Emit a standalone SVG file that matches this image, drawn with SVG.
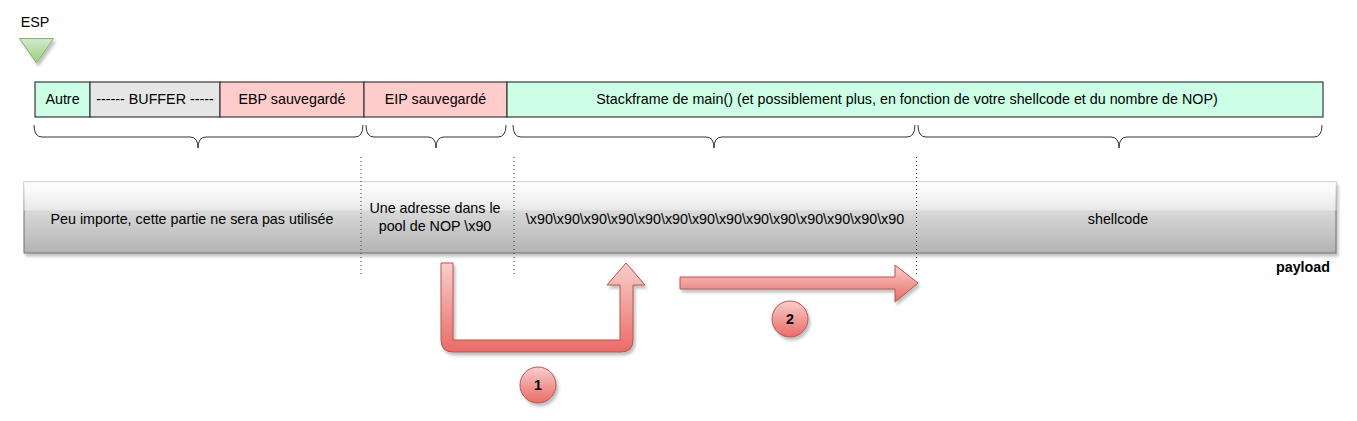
<svg xmlns="http://www.w3.org/2000/svg" width="1357" height="421" viewBox="0 0 1357 421">
<defs>
<style>
text{font-family:"Liberation Sans",Arial,Helvetica,sans-serif;font-size:14.3px;fill:#000;text-anchor:middle}
.cell{stroke:#36393d;stroke-width:1.2}
.brace{fill:none;stroke:#333;stroke-width:1}
.dot{stroke:#333;stroke-width:1;stroke-dasharray:1 3}
.red{fill:url(#gRed);stroke:#b85450;stroke-width:1;filter:url(#sh)}
.b{font-weight:bold}
</style>
<linearGradient id="gRed" x1="0" y1="0" x2="0" y2="1">
<stop offset="0" stop-color="#f8cecc"/><stop offset="1" stop-color="#ea6b66"/>
</linearGradient>
<linearGradient id="gGreen" x1="0" y1="0" x2="0" y2="1">
<stop offset="0" stop-color="#d5e8d4"/><stop offset="1" stop-color="#97d077"/>
</linearGradient>
<linearGradient id="gGray" x1="0" y1="0" x2="0" y2="1">
<stop offset="0" stop-color="#f2f2f2"/><stop offset="1" stop-color="#b3b3b3"/>
</linearGradient>
<linearGradient id="gGlass" x1="0" y1="0" x2="0" y2="1">
<stop offset="0" stop-color="#fff" stop-opacity="0.9"/><stop offset="1" stop-color="#fff" stop-opacity="0.35"/>
</linearGradient>
<filter id="sh" x="-20%" y="-20%" width="140%" height="150%">
<feDropShadow dx="2" dy="3" stdDeviation="1.5" flood-color="#000" flood-opacity="0.25"/>
</filter>
</defs>

<g id="esp">
<text x="35" y="27">ESP</text>
<path d="M19.5,38.5 L53.5,38.5 L36.5,63 Z" fill="url(#gGreen)" stroke="#82b366" filter="url(#sh)"/>
</g>

<g id="stack">
<rect class="cell" x="35" y="82" width="55" height="35" fill="#ccffe6"/>
<text x="62.5" y="104">Autre</text>
<rect class="cell" x="90" y="82" width="130" height="35" fill="#e6e6e6"/>
<text x="155" y="104">------ BUFFER -----</text>
<rect class="cell" x="220" y="82" width="144" height="35" fill="#ffcccc"/>
<text x="292" y="104">EBP sauvegardé</text>
<rect class="cell" x="364" y="82" width="143" height="35" fill="#ffcccc"/>
<text x="435.5" y="104">EIP sauvegardé</text>
<rect class="cell" x="507" y="82" width="816" height="35" fill="#ccffe6"/>
<text x="907" y="104">Stackframe de main() (et possiblement plus, en fonction de votre shellcode et du nombre de NOP)</text>
</g>

<g id="braces">
<path class="brace" d="M34,125 Q34,137 42,137 L190,137 Q198,137 198,148 Q198,137 206,137 L355,137 Q363,137 363,125"/>
<path class="brace" d="M366,125 Q366,137 374,137 L428,137 Q436,137 436,148 Q436,137 444,137 L498,137 Q506,137 506,125"/>
<path class="brace" d="M513,125 Q513,137 521,137 L706,137 Q714,137 714,148 Q714,137 722,137 L907,137 Q915,137 915,125"/>
<path class="brace" d="M918,125 Q918,137 926,137 L1111,137 Q1119,137 1119,148 Q1119,137 1127,137 L1314,137 Q1322,137 1322,125"/>
</g>

<g id="payload">
<rect x="24" y="182" width="1312" height="71" fill="url(#gGray)" stroke="#707070" stroke-width="1" filter="url(#sh)"/>
<rect x="23.5" y="181.5" width="1313" height="29" fill="url(#gGlass)"/>
<text x="192" y="224">Peu importe, cette partie ne sera pas utilisée</text>
<text x="435" y="213">Une adresse dans le</text>
<text x="435" y="231">pool de NOP \x90</text>
<text x="715" y="224">\x90\x90\x90\x90\x90\x90\x90\x90\x90\x90\x90\x90\x90\x90</text>
<text x="1118" y="224">shellcode</text>
<text class="b" x="1330" y="272" style="text-anchor:end">payload</text>
</g>

<g id="separators">
<line class="dot" x1="361" y1="157" x2="361" y2="276"/>
<line class="dot" x1="514" y1="157" x2="514" y2="276"/>
<line class="dot" x1="916.5" y1="157" x2="916.5" y2="276"/>
</g>

<g id="connectors">
<path class="red" d="M441,263 L453,263 L453,340 L620,340 L620,285 L607,285 L626,263 L645,285 L633,285 L633,340 Q633,352 621,352 L453,352 Q441,352 441,340 Z"/>
<path class="red" d="M680,277 L895,277 L895,265 L918,283 L895,302 L895,289 L680,289 Z"/>
</g>

<g id="step1">
<circle class="red" cx="538" cy="385" r="18"/>
<text class="b" x="538" y="390">1</text>
</g>
<g id="step2">
<circle class="red" cx="790" cy="319" r="18"/>
<text class="b" x="790" y="324">2</text>
</g>
</svg>
